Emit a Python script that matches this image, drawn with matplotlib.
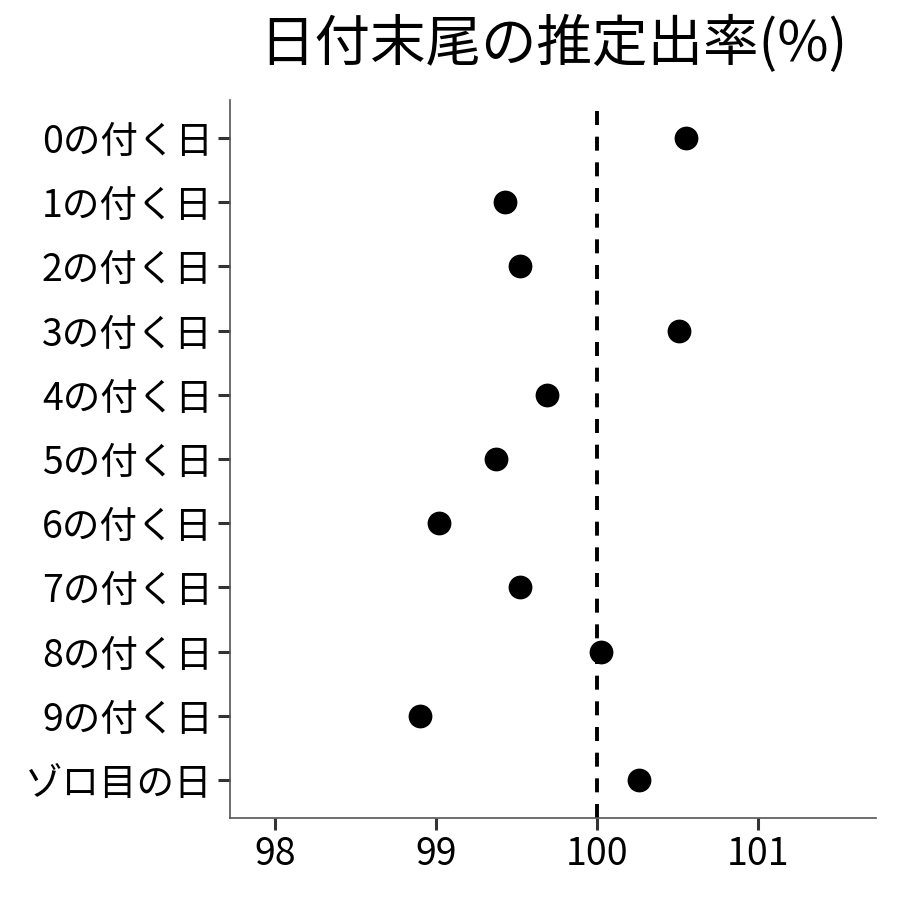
import matplotlib
matplotlib.use("Agg")
import matplotlib.pyplot as plt

plt.rcParams['font.family'] = ['Noto Sans CJK JP', 'DejaVu Sans']

labels = ['0の付く日', '1の付く日', '2の付く日', '3の付く日', '4の付く日',
          '5の付く日', '6の付く日', '7の付く日', '8の付く日', '9の付く日', 'ゾロ目の日']
rates = [100.55, 99.43, 99.52, 100.51, 99.69, 99.37, 99.02, 99.52, 100.02, 98.90, 100.26]
xticks = [98, 99, 100, 101]

fig = plt.figure(figsize=(9, 9), dpi=100)
ax = fig.add_axes([0.2556, 0.0911, 0.7177, 0.7978])

ypos = list(range(len(labels)))
ax.axvline(100, color='black', lw=2.8, ls=(0, (3.6, 3.0)), zorder=1)
ax.scatter(rates, ypos, s=260, color='black', zorder=3)

ax.set_xlim(97.72, 101.73)
ax.set_ylim(len(labels) - 1 + 0.59, -0.59)
ax.set_yticks(ypos)
ax.set_yticklabels(labels)
ax.set_xticks(xticks)
ax.set_xticklabels([str(t) for t in xticks])

for s in ['top', 'right']:
    ax.spines[s].set_visible(False)
for s in ['left', 'bottom']:
    ax.spines[s].set_color('#555555')
    ax.spines[s].set_linewidth(1.2)
ax.tick_params(axis='both', colors='#333333', width=2.2, length=8.5, labelsize=27, labelcolor='black', pad=4)

fig.text(0.6144, 0.95, '日付末尾の推定出率(%)', ha='center', va='center', fontsize=40)

fig.savefig('out.png', dpi=100)
